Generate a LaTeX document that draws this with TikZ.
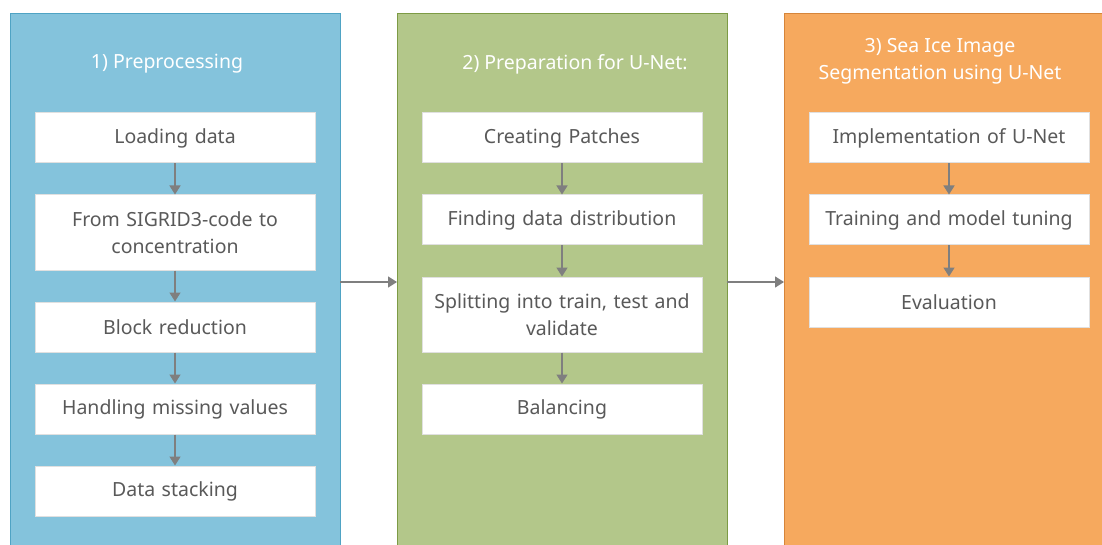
\documentclass[tikz,border=0pt]{standalone}
\usepackage{fontspec}
\setmainfont{Noto Sans}
\usetikzlibrary{positioning,arrows.meta}

\definecolor{txtgray}{HTML}{595959}
\definecolor{arrgray}{HTML}{7F7F7F}
\definecolor{bluefill}{HTML}{84C3DC}
\definecolor{blueline}{HTML}{4FA3C4}
\definecolor{greenfill}{HTML}{B3C78A}
\definecolor{greenline}{HTML}{7D9B45}
\definecolor{orangefill}{HTML}{F6A95E}
\definecolor{orangeline}{HTML}{D6853A}

\tikzset{
  stage/.style={fill=white, draw=black!12, line width=1pt, minimum width=280pt,
    minimum height=50pt, text width=266pt, align=center, text=txtgray,
    font=\fontsize{19.5}{26.5}\selectfont, inner sep=0pt},
  title/.style={text=white, align=center, font=\fontsize{19.5}{27}\selectfont},
  flow/.style={draw=arrgray, line width=1.5pt, -{Triangle[length=9pt,width=11pt]}}
}

\begin{document}
\begin{tikzpicture}[x=1pt, y=1pt, node distance=31pt]
  \useasboundingbox (0,0) rectangle (1102,-545);
  \clip (0,0) rectangle (1102,-545);
  % panels
  \draw[fill=bluefill, draw=blueline, line width=1pt] (10,-14) rectangle (340,-560);
  \draw[fill=greenfill, draw=greenline, line width=1pt] (397,-14) rectangle (727,-560);
  \draw[fill=orangefill, draw=orangeline, line width=1pt] (784,-14) rectangle (1120,-560);
  \coordinate (p1) at (340,-282);
  \coordinate (p2) at (397,-282);
  \coordinate (p3) at (727,-282);
  \coordinate (p4) at (784,-282);

  \node[title] (t1) at (167,-64) {1) Preprocessing};
  \node[title] (t2) at (575,-64) {2) Preparation for U-Net:};
  \node[title] (t3) at (940,-61) {3) Sea Ice Image\\Segmentation using U-Net};

  % column 1
  \node[stage] (a1) at (175,-138) {Loading data};
  \node[stage, minimum height=75pt, below=of a1] (a2) {From SIGRID3-code to\\concentration};
  \node[stage, below=of a2] (a3) {Block reduction};
  \node[stage, below=of a3] (a4) {Handling missing values};
  \node[stage, below=of a4] (a5) {Data stacking};

  % column 2
  \node[stage] (b1) at (562,-138) {Creating Patches};
  \node[stage, below=of b1] (b2) {Finding data distribution};
  \node[stage, minimum height=75pt, below=of b2] (b3) {Splitting into train, test and\\validate};
  \node[stage, below=of b3] (b4) {Balancing};

  % column 3
  \node[stage] (c1) at (949,-138) {Implementation of U-Net};
  \node[stage, below=of c1] (c2) {Training and model tuning};
  \node[stage, below=of c2] (c3) {Evaluation};

  \path
  (a1) edge[flow] (a2)
  (a2) edge[flow] (a3)
  (a3) edge[flow] (a4)
  (a4) edge[flow] (a5)
  (b1) edge[flow] (b2)
  (b2) edge[flow] (b3)
  (b3) edge[flow] (b4)
  (c1) edge[flow] (c2)
  (c2) edge[flow] (c3)
  (p1) edge[flow] (p2)
  (p3) edge[flow] (p4)
;
\end{tikzpicture}
\end{document}
